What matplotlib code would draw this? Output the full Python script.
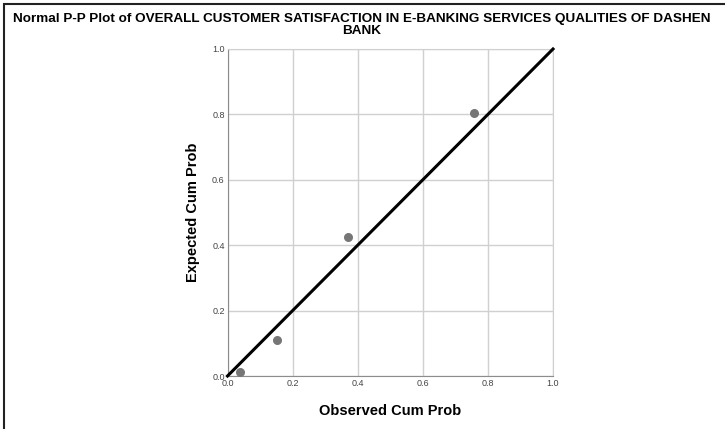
import matplotlib.pyplot as plt
from matplotlib.patches import Rectangle

plt.rcParams['font.family'] = ['Liberation Sans', 'DejaVu Sans']

# observed vs expected cumulative probabilities
observed = [0.038, 0.152, 0.371, 0.758]
expected = [0.012, 0.109, 0.426, 0.803]
ticks = [0.0, 0.2, 0.4, 0.6, 0.8, 1.0]
tick_labels = ['0.0', '0.2', '0.4', '0.6', '0.8', '1.0']
title_lines = ['Normal P-P Plot of OVERALL CUSTOMER SATISFACTION IN E-BANKING SERVICES QUALITIES OF DASHEN',
               'BANK']

fig = plt.figure(figsize=(7.25, 4.29), dpi=100)
ax = fig.add_axes([227.5 / 725, 1 - 376 / 429, 325.5 / 725, 327 / 429])

# outer frame (only its top and left edges fall inside the image)
top = 1 - 4 / 429
fig.patches.append(Rectangle((4 / 725, -0.1), 1.2, top + 0.1,
                             transform=fig.transFigure, fill=False,
                             edgecolor='#222222', linewidth=1.5))

ax.set_xlim(0, 1)
ax.set_ylim(0, 1)
ax.set_xticks(ticks)
ax.set_yticks(ticks)
ax.set_xticklabels(tick_labels)
ax.set_yticklabels(tick_labels)
ax.tick_params(length=0, labelsize=6.5, labelcolor='#444444', pad=2)
ax.grid(True, color='#d0d0d0', linewidth=1)
ax.set_axisbelow(True)
for side in ['top', 'right']:
    ax.spines[side].set_color('#d0d0d0')
for side in ['left', 'bottom']:
    ax.spines[side].set_color('#8c8c8c')

ax.plot([0, 1], [0, 1], color='black', linewidth=2.2, clip_on=False, zorder=3)
ax.scatter(observed, expected, s=30, color='#767676', zorder=4, clip_on=False)

ax.set_xlabel('Observed Cum Prob', fontsize=10.5, fontweight='bold', labelpad=12)
ax.set_ylabel('Expected Cum Prob', fontsize=10.5, fontweight='bold', labelpad=9)

# two-line title
for i, line in enumerate(title_lines):
    fig.text(362 / 725, 1 - (19 + 12 * i) / 429, line,
             ha='center', va='center', fontsize=9.7, fontweight='bold')

fig.savefig('out.png', dpi=100)
